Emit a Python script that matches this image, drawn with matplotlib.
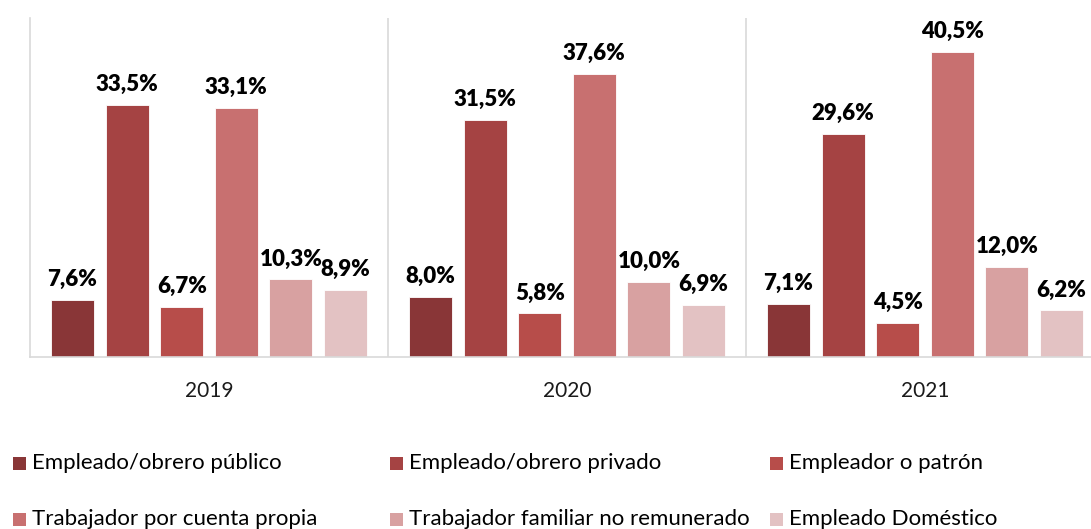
import numpy as np
import matplotlib
matplotlib.use('Agg')
import matplotlib.pyplot as plt
from matplotlib.patches import Rectangle

plt.rcParams['font.family'] = ['Lato', 'DejaVu Sans']

years = ['2019', '2020', '2021']
categorias = ['Empleado/obrero público', 'Empleado/obrero privado', 'Empleador o patrón',
              'Trabajador por cuenta propia', 'Trabajador familiar no remunerado', 'Empleado Doméstico']
valores = [
    [7.6, 8.0, 7.1],
    [33.5, 31.5, 29.6],
    [6.7, 5.8, 4.5],
    [33.1, 37.6, 40.5],
    [10.3, 10.0, 12.0],
    [8.9, 6.9, 6.2],
]
colores = ['#893637', '#A54343', '#B74D4A', '#C87070', '#D8A1A1', '#E3C2C3']

W, H = 1091, 529
fig = plt.figure(figsize=(W/100, H/100), dpi=100)
ax = fig.add_axes([30/W, 1-357/H, 1061/W, (357-18)/H])

x = np.arange(len(years))
paso = 0.1525
ancho = 0.12
for i, (cat, vals) in enumerate(zip(categorias, valores)):
    pos = x + (i - 2.5) * paso
    bars = ax.bar(pos, vals, width=ancho, color=colores[i], edgecolor='white', linewidth=0.6)
    for b, v in zip(bars, vals):
        ax.annotate(('%.1f%%' % v).replace('.', ','), (b.get_x() + b.get_width()/2, v),
                    xytext=(0, 7), textcoords='offset points', ha='center', va='bottom',
                    fontsize=16, fontweight='heavy', color='black')

ax.set_xlim(-0.5, 2.5 - 13/358)
ax.set_ylim(0, 45)
for s in [0.5, 1.5]:
    ax.axvline(s, color='#D9D9D9', linewidth=1.2)
for sp in ['top', 'right']:
    ax.spines[sp].set_visible(False)
ax.spines['left'].set_color('#D9D9D9')
ax.spines['bottom'].set_color('#D9D9D9')
ax.spines['left'].set_linewidth(1.2)
ax.spines['bottom'].set_linewidth(1.2)
ax.set_yticks([])
ax.set_xticks(x)
ax.set_xticklabels(years, fontsize=15, color='#1a1a1a')
ax.tick_params(axis='x', length=0, pad=17)

# leyenda manual: 3 columnas de ancho fijo como en Excel
col_x = [13, 390, 770]
fila_y = [463, 519]
for k, (cat, c) in enumerate(zip(categorias, colores)):
    px = col_x[k % 3]
    py = fila_y[k // 3]
    fig.add_artist(Rectangle((px/W, 1-(py+6.5)/H), 13/W, 13/H, transform=fig.transFigure,
                             facecolor=c, edgecolor='none'))
    fig.text((px+19)/W, 1-py/H, cat, fontsize=16, va='center', ha='left', color='black')

fig.savefig('out.png', dpi=100)
